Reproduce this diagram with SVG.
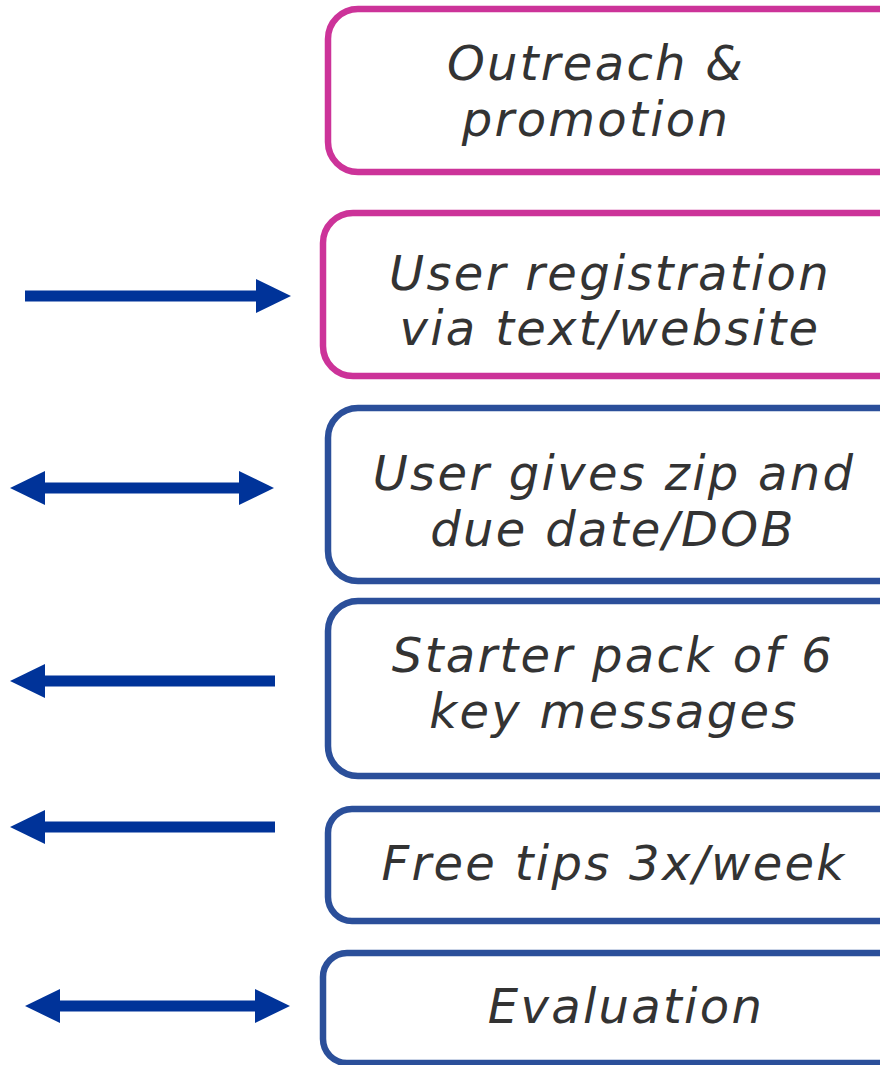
<svg xmlns="http://www.w3.org/2000/svg" width="880" height="1065" viewBox="0 0 880 1065">
<defs>
<style>
.box{fill:#fff;stroke-width:6.5}
.pink{stroke:#CC3399}
.blue{stroke:#2B4F9A}
.lbl{font-family:"DejaVu Sans",Verdana,sans-serif;font-style:italic;font-size:48px;letter-spacing:2.3px;fill:#333;text-anchor:middle}
.arr{stroke:#003399;stroke-width:11;fill:none}
</style>
<marker id="ah" markerUnits="userSpaceOnUse" markerWidth="36" markerHeight="36" refX="0" refY="17" orient="auto-start-reverse">
<path d="M0,0 L35,17 L0,34 z" fill="#003399"/>
</marker>
</defs>
<rect width="880" height="1065" fill="#fff"/>
<g id="n1"><rect class="box pink" x="328" y="9" width="580" height="163" rx="30"/>
<text class="lbl" x="596" y="80">Outreach &amp;</text><text class="lbl" x="596" y="136">promotion</text></g>
<g id="n2"><rect class="box pink" x="323" y="213" width="585" height="163" rx="30"/>
<text class="lbl" x="610" y="290">User registration</text><text class="lbl" x="610" y="345">via text/website</text></g>
<g id="n3"><rect class="box blue" x="328" y="408" width="580" height="173" rx="30"/>
<text class="lbl" x="614" y="490">User gives zip and</text><text class="lbl" x="613" y="546">due date/DOB</text></g>
<g id="n4"><rect class="box blue" x="328" y="601" width="580" height="175" rx="30"/>
<text class="lbl" x="613" y="672">Starter pack of 6</text><text class="lbl" x="614" y="728">key messages</text></g>
<g id="n5"><rect class="box blue" x="328" y="809" width="580" height="112" rx="24"/>
<text class="lbl" x="614" y="880">Free tips 3x/week</text></g>
<g id="n6"><rect class="box blue" x="323" y="953" width="585" height="110" rx="24"/>
<text class="lbl" x="626" y="1023">Evaluation</text></g>
<g id="connectors">
<line class="arr" x1="25" y1="296" x2="256" y2="296" marker-end="url(#ah)"/>
<line class="arr" x1="45" y1="488" x2="239" y2="488" marker-start="url(#ah)" marker-end="url(#ah)"/>
<line class="arr" x1="275" y1="681" x2="45" y2="681" marker-end="url(#ah)"/>
<line class="arr" x1="275" y1="827" x2="45" y2="827" marker-end="url(#ah)"/>
<line class="arr" x1="60" y1="1006" x2="255" y2="1006" marker-start="url(#ah)" marker-end="url(#ah)"/>
</g>
</svg>
